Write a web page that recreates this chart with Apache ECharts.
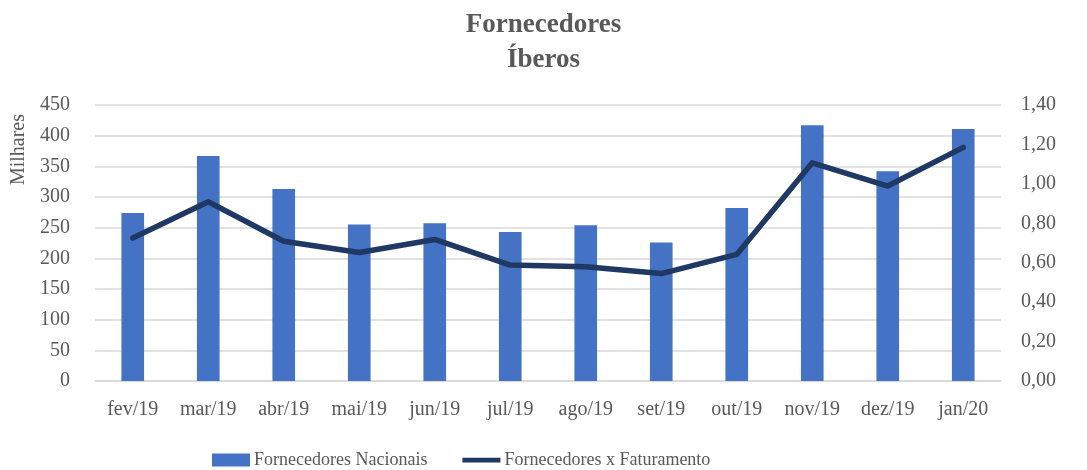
<!DOCTYPE html>
<html>
<head>
<meta charset="utf-8">
<script src="https://cdn.jsdelivr.net/npm/echarts@6/dist/echarts.min.js"></script>
<style>
  html, body { margin: 0; padding: 0; background: #fff; }
  #main { width: 1087px; height: 470px; }
</style>
</head>
<body>
<div id="main"></div>
<script>
var meses = ['fev/19', 'mar/19', 'abr/19', 'mai/19', 'jun/19', 'jul/19', 'ago/19', 'set/19', 'out/19', 'nov/19', 'dez/19', 'jan/20'];
// Milhares
var nacionais = [274, 367, 313, 255, 257, 243, 254, 226, 282, 417, 342, 411];
var faturamento = [0.725, 0.909, 0.709, 0.652, 0.718, 0.588, 0.579, 0.545, 0.642, 1.107, 0.989, 1.185];

var fonte = '"Liberation Serif", "DejaVu Serif", serif';
var cinza = '#595959';

var myChart = echarts.init(document.getElementById('main'));

myChart.setOption({
    backgroundColor: '#fff',
    animation: false,
    title: {
        text: 'Fornecedores\nÍberos',
        left: 'center',
        top: 3,
        textStyle: {
            fontFamily: fonte,
            fontSize: 27,
            fontWeight: 'bold',
            color: cinza,
            lineHeight: 35
        }
    },
    legend: {
        top: 451,
        left: 212,
        padding: 0,
        itemGap: 35,
        itemWidth: 38,
        itemHeight: 13,
        textStyle: { fontFamily: fonte, fontSize: 18, color: cinza, padding: [0, 0, 0, -1] },
        data: [
            { name: 'Fornecedores Nacionais', icon: 'rect' },
            // linha grossa, sem marcador
            { name: 'Fornecedores x Faturamento', icon: 'path://M0,0L0,0M40,13L40,13M0,4H40V9H0Z' }
        ]
    },
    graphic: [{
        type: 'text',
        left: 9,
        top: 114,
        rotation: Math.PI / 2,
        style: { text: 'Milhares', fontFamily: fonte, fontSize: 20, fill: cinza }
    }],
    grid: {
        left: 95,
        right: 86,
        top: 105,
        bottom: 89
    },
    xAxis: {
        type: 'category',
        data: meses,
        axisTick: { show: false },
        axisLine: { lineStyle: { color: '#d9d9d9', width: 1.5 } },
        axisLabel: { interval: 0, fontFamily: fonte, fontSize: 20, color: cinza, margin: 19 }
    },
    yAxis: [{
        type: 'value',
        min: 0,
        max: 450,
        interval: 50,
        axisLine: { show: false },
        axisTick: { show: false },
        splitLine: { lineStyle: { color: '#d9d9d9', width: 1.5 } },
        axisLabel: { fontFamily: fonte, fontSize: 20, color: cinza, margin: 25 }
    }, {
        type: 'value',
        min: 0,
        max: 1.4,
        interval: 0.2,
        axisLine: { show: false },
        axisTick: { show: false },
        splitLine: { show: false },
        axisLabel: {
            fontFamily: fonte, fontSize: 20, color: cinza, margin: 20,
            formatter: function (v) { return v.toFixed(2).replace('.', ','); }
        }
    }],
    series: [{
        name: 'Fornecedores Nacionais',
        type: 'bar',
        barWidth: '30%',
        itemStyle: { color: '#4472C4' },
        data: nacionais
    }, {
        name: 'Fornecedores x Faturamento',
        type: 'line',
        yAxisIndex: 1,
        symbol: 'none',
        lineStyle: { color: '#203864', width: 5.5, cap: 'round', join: 'round' },
        itemStyle: { color: '#203864' },
        data: faturamento
    }]
});
</script>
</body>
</html>
